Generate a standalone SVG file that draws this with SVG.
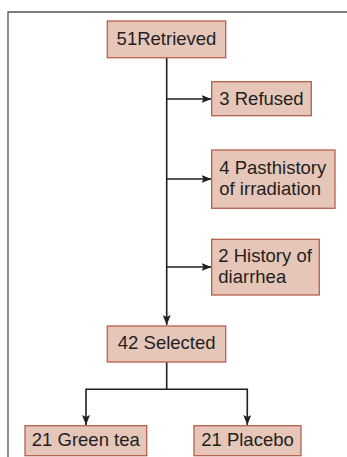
<svg xmlns="http://www.w3.org/2000/svg" width="347" height="457" viewBox="0 0 347 457">
<style>
.box{fill:#e6c6b8;stroke:#b5604c;stroke-width:1.3}
.t{font-family:"Liberation Sans",Arial,sans-serif;font-size:18.5px;fill:#231f20}
.c{text-anchor:middle}
.ln{fill:none;stroke:#231f20;stroke-width:1.6}
</style>
<defs>
<marker id="ah" viewBox="0 0 10 8" refX="10" refY="4" markerWidth="10" markerHeight="8" markerUnits="userSpaceOnUse" orient="auto">
<path d="M0,0 L10,4 L0,8 L2,4 Z" fill="#231f20"/>
</marker>
</defs>
<rect x="0" y="0" width="347" height="457" fill="#fff"/>
<path d="M8,470 V12 H360" fill="none" stroke="#555" stroke-width="1.3"/>
<g id="connectors">
<path class="ln" d="M166.7,58 V325" marker-end="url(#ah)"/>
<path class="ln" d="M166.7,99 H211.5" marker-end="url(#ah)"/>
<path class="ln" d="M166.7,179 H211.5" marker-end="url(#ah)"/>
<path class="ln" d="M166.7,267 H211.5" marker-end="url(#ah)"/>
<path class="ln" d="M166.7,362 V389.3 H86 V425" marker-end="url(#ah)"/>
<path class="ln" d="M166.7,389.3 H247.3 V425" marker-end="url(#ah)"/>
</g>
<g id="retrieved">
<rect class="box" x="107.3" y="21" width="118.4" height="36.7"/>
<text class="t c" x="166.5" y="45">51Retrieved</text>
</g>
<g id="refused">
<rect class="box" x="211.7" y="81.7" width="99.6" height="34"/>
<text class="t c" x="261.5" y="105.3">3 Refused</text>
</g>
<g id="irradiation">
<rect class="box" x="211.7" y="150" width="123.3" height="58.3"/>
<text class="t" x="219.3" y="173.7">4 Pasthistory</text>
<text class="t" x="219.3" y="195">of irradiation</text>
</g>
<g id="diarrhea">
<rect class="box" x="211.7" y="239.3" width="107.6" height="55.7"/>
<text class="t" x="218.3" y="261.7">2 History of</text>
<text class="t" x="218.3" y="283.3">diarrhea</text>
</g>
<g id="selected">
<rect class="box" x="107.3" y="326" width="118.4" height="36"/>
<text class="t c" x="166.7" y="349.3">42 Selected</text>
</g>
<g id="greentea">
<rect class="box" x="25" y="425.7" width="121.7" height="30"/>
<text class="t c" x="85.8" y="446">21 Green tea</text>
</g>
<g id="placebo">
<rect class="box" x="194" y="425.7" width="107" height="30"/>
<text class="t c" x="247.5" y="446">21 Placebo</text>
</g>
</svg>
